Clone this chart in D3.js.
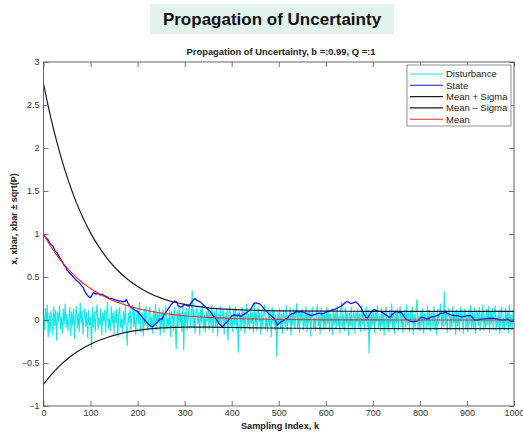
<!DOCTYPE html>
<html>
<head>
<meta charset="utf-8">
<script src="https://cdn.jsdelivr.net/npm/d3@7"></script>
<style>
  body { margin: 0; background: #fff; }
  svg { display: block; font-family: "Liberation Sans", Arial, Helvetica, sans-serif; }
</style>
</head>
<body>
<svg id="chart" width="523" height="433"></svg>
<script>
// ---- data -------------------------------------------------------------
const b = 0.99, Q = 1;
const xTicks = [0, 100, 200, 300, 400, 500, 600, 700, 800, 900, 1000];
const yTicks = [-1, -0.5, 0, 0.5, 1, 1.5, 2, 2.5, 3];

// sample indices for the mean / sigma envelope
const envK = [0, 10, 20, 30, 40, 50, 60, 70, 80, 90, 100, 120, 140, 160, 180, 200, 225, 250, 275, 300, 350, 400, 450, 500, 600, 700, 800, 900, 1000];
const meanV = [1, .904, .818, .740, .669, .605, .547, .495, .448, .405, .366, .299, .245, .200, .164, .134, .104, .081, .063, .049, .030, .018, .011, .007, .002, .001, 0, 0, 0];
const upperV = [2.75, 2.488, 2.251, 2.036, 1.842, 1.667, 1.508, 1.365, 1.236, 1.119, 1.013, .832, .684, .564, .467, .389, .312, .255, .212, .181, .142, .123, .113, .107, .103, .101, .100, .100, .100];
const lowerV = [-.75, -.679, -.615, -.557, -.504, -.457, -.414, -.376, -.341, -.309, -.281, -.233, -.195, -.164, -.139, -.121, -.104, -.092, -.086, -.083, -.083, -.087, -.091, -.094, -.098, -.099, -.100, -.100, -.100];

// state trajectory
const stateK = [0,5,10,15,20,25,29,35,40,43,47,50,55,60,65,70,75,79,84,88,93,96,100,104,107,111,116,120,125,130,135,140,145,150,155,160,165,170,174,176,179,185,190,195,200,206,212,218,223,228,232,237,242,247,252,256,260,265,270,275,279,283,286,291,296,300,305,309,314,318,322,326,330,335,341,346,352,357,362,367,373,377,380,385,391,396,401,406,412,416,419,424,430,435,440,444,447,452,456,459,463,469,474,479,484,490,494,497,501,505,510,514,518,522,527,533,538,543,547,552,557,561,566,570,575,580,586,591,597,604,610,614,618,625,632,637,643,648,653,658,664,668,674,678,681,685,689,692,696,700,703,708,712,717,722,727,731,735,738,742,745,749,754,760,765,770,775,781,788,795,802,806,811,816,822,830,836,840,845,850,855,860,866,872,880,887,894,900,908,912,916,923,930,937,944,951,958,965,972,979,987,994,1000];
const stateV = [1.0,.96,.93,.88,.86,.80,.78,.72,.68,.64,.62,.58,.55,.52,.49,.46,.44,.41,.38,.33,.29,.27,.26,.30,.32,.30,.31,.29,.30,.28,.27,.25,.25,.24,.23,.22,.22,.21,.22,.24,.20,.15,.13,.11,.10,.06,.02,-.02,-.05,-.07,-.08,-.05,-.03,.01,.01,.06,.09,.13,.17,.20,.22,.21,.17,.15,.16,.18,.17,.16,.20,.23,.25,.23,.22,.20,.17,.14,.11,.08,.04,.01,-.04,-.06,-.08,-.05,-.02,.02,.05,.06,.05,.06,.04,.06,.08,.10,.12,.16,.19,.20,.19,.19,.17,.13,.10,.07,.05,.02,-.02,-.06,-.04,-.02,-.01,.01,.02,.05,.07,.08,.10,.09,.10,.09,.08,.07,.06,.05,.06,.07,.08,.07,.08,.10,.11,.12,.12,.14,.16,.18,.21,.21,.19,.20,.21,.19,.15,.11,.07,.03,.02,.05,.09,.11,.12,.11,.10,.10,.08,.06,.05,.03,.04,.07,.08,.10,.09,.09,.05,.01,0,-.02,-.02,-.01,.03,.03,.02,.01,.03,.04,.05,.06,.08,.08,.09,.07,.06,.05,.05,.04,.04,.05,.05,.03,0,0,.01,.01,.02,.02,.02,.01,0,0,.01,-.02,-.01];

// disturbance, every second sample from k = 0 to 1000
const disturbance = [
  .05,-.12,.14,-.03,.18,-.20,.08,-.15,.11,.02,-.18,.16,-.07,.12,-.24,.09,-.02,.17,-.11,.04,-.16,.13,-.05,.19,-.09,
  .07,-.13,.02,.15,-.19,.10,-.06,.13,-.22,.05,.16,-.10,.08,-.14,.20,-.04,.11,-.17,.03,.14,-.08,.09,-.21,.12,-.06,
  .04,-.33,.15,-.09,.10,-.14,.07,.18,-.12,.03,-.07,.14,-.18,.09,-.02,.12,-.15,.06,.21,-.10,.01,-.13,.16,-.05,.08,
  -.16,.11,-.04,.13,-.20,.07,.15,-.09,.02,-.14,.10,-.06,.17,-.11,-.30,.08,-.03,.14,-.12,.05,.18,-.08,.10,-.17,.06,
  .12,-.05,.21,-.14,.03,.09,-.19,.13,-.07,.16,-.02,-.13,.08,.15,-.10,.04,-.16,.11,-.06,.19,-.12,.07,-.03,.14,-.18,
  .09,-.08,.13,-.15,.05,.17,-.11,.02,-.07,.12,-.20,.10,.06,-.13,.15,-.04,-.34,.11,-.09,.16,-.06,.08,-.14,.18,-.35,
  .10,-.07,.14,-.12,.05,.19,-.10,.03,.35,-.08,.12,-.16,.07,.15,-.05,.09,-.18,.13,-.03,.17,-.11,.06,-.14,.10,-.02,
  .15,-.12,.08,-.06,.18,-.15,.04,.11,-.09,.14,-.19,.07,-.03,.16,-.10,.05,.12,-.17,.09,-.05,.13,-.24,.06,.17,-.08,
  .03,-.14,.12,-.06,.16,-.11,.08,-.38,.10,.05,-.13,.15,-.07,.11,-.16,.04,.19,-.09,.07,-.12,.14,-.04,.09,-.15,.21,
  -.06,.10,-.13,.16,-.02,.08,-.17,.12,-.09,.05,.18,-.11,.03,-.14,.13,-.07,.10,-.20,.15,-.04,.11,-.12,.06,-.43,.09,
  -.05,.14,-.10,.07,-.16,.12,.03,-.08,.17,-.13,.06,-.03,.15,-.18,.09,-.06,.13,-.11,.04,.19,-.09,.08,-.15,.11,-.02,
  .13,-.12,.06,-.08,.16,-.14,.10,-.04,.12,-.19,.07,.15,-.10,.03,-.13,.09,.18,-.07,.05,-.16,.14,-.03,.10,-.12,.08,
  -.09,.15,-.05,.11,-.14,.07,.02,-.17,.13,-.06,.09,-.11,.16,-.08,.04,-.15,.12,.21,-.10,.06,-.13,.14,-.04,.10,-.18,
  .08,-.07,.15,-.12,.05,.11,-.16,.09,-.03,.14,-.09,.07,-.14,.17,-.05,.10,-.13,.04,.16,-.08,.12,-.39,.06,-.11,.13,
  -.06,.09,-.15,.12,-.02,.17,-.10,.05,-.13,.14,-.07,.10,-.18,.08,.15,-.11,.03,-.14,.12,-.05,.19,-.09,.07,-.16,.11,
  -.04,.13,-.12,.06,.16,-.08,.10,-.15,.04,.12,-.10,.18,-.06,.09,-.14,.11,-.03,.15,-.17,.07,-.09,.13,.24,-.11,.05,
  -.13,.10,-.06,.14,-.16,.08,.02,-.11,.17,-.07,.12,-.14,.05,.10,-.09,.16,-.12,.04,-.18,.13,-.05,.09,.19,-.10,.07,
  -.08,.33,-.06,.11,-.15,.08,.14,-.12,.05,-.09,.16,-.04,.10,-.17,.12,-.07,.09,-.13,.15,-.02,.11,-.16,.07,.13,-.10,
  .06,-.14,.12,-.05,.17,-.11,.08,-.09,.14,-.16,.04,.11,-.07,.15,-.13,.09,-.03,.18,-.12,.06,-.10,.13,-.06,.16,-.15,
  .10,-.04,.14,-.11,.07,.17,-.13,.05,-.08,.12,-.16,.09,.15,-.10,.03,-.12,.14,-.06,.10,-.15,.18,-.09,.06,-.11,.12,
  -.03
];

const seriesNames = ["Disturbance", "State", "Mean + Sigma", "Mean \u2013 Sigma", "Mean"];
const seriesColors = ["#19e6e6", "#1414f0", "#1a1a2e", "#1a1a1a", "#f02a2a"];

// ---- layout -----------------------------------------------------------
const svg = d3.select("#chart");
const plotL = 43.5, plotR = 514, plotT = 62, plotB = 406;
const x = d3.scaleLinear().domain([0, 1000]).range([plotL, plotR]);
const y = d3.scaleLinear().domain([-1, 3]).range([plotB, plotT]);
const fmtY = v => (v < 0 ? "\u2212" : "") + Math.abs(v);

// banner heading
svg.append("rect").attr("x", 150).attr("y", 4).attr("width", 244).attr("height", 30)
  .attr("fill", "#e1f3ec");
svg.append("text").attr("x", 272).attr("y", 24.5).attr("text-anchor", "middle")
  .attr("font-size", 17).attr("font-weight", "bold").attr("fill", "#111")
  .text("Propagation of Uncertainty");

// plot title
svg.append("text").attr("x", 281).attr("y", 54.5).attr("text-anchor", "middle")
  .attr("font-size", 9.4).attr("font-weight", "bold").attr("fill", "#222")
  .text(`Propagation of Uncertainty, b =:${b}, Q =:${Q}`);

// clipped data layer
svg.append("clipPath").attr("id", "plotclip").append("rect")
  .attr("x", plotL).attr("y", plotT).attr("width", plotR - plotL).attr("height", plotB - plotT);
const g = svg.append("g").attr("clip-path", "url(#plotclip)");

const stepK = 1000 / (disturbance.length - 1);
const line = d3.line().x(d => x(d[0])).y(d => y(d[1]));
const smooth = d3.line().x(d => x(d[0])).y(d => y(d[1])).curve(d3.curveMonotoneX);

g.append("path").datum(disturbance.map((v, i) => [i * stepK, v]))
  .attr("d", line).attr("fill", "none").attr("stroke", seriesColors[0]).attr("stroke-width", 1.1);
g.append("path").datum(stateK.map((k, i) => [k, stateV[i]]))
  .attr("d", line).attr("fill", "none").attr("stroke", seriesColors[1]).attr("stroke-width", 1.3)
  .attr("stroke-linejoin", "round");
g.append("path").datum(envK.map((k, i) => [k, upperV[i]]))
  .attr("d", smooth).attr("fill", "none").attr("stroke", seriesColors[2]).attr("stroke-width", 1.2);
g.append("path").datum(envK.map((k, i) => [k, lowerV[i]]))
  .attr("d", smooth).attr("fill", "none").attr("stroke", seriesColors[3]).attr("stroke-width", 1.2);
g.append("path").datum(envK.map((k, i) => [k, meanV[i]]))
  .attr("d", smooth).attr("fill", "none").attr("stroke", seriesColors[4]).attr("stroke-width", 1.1);

// axes with inward ticks on all four sides
const axisColor = "#555";
function styleAxis(sel) {
  sel.select(".domain").remove();
  sel.selectAll(".tick line").attr("stroke", axisColor).attr("stroke-width", 0.8);
  sel.selectAll(".tick text").attr("fill", "#333").attr("font-size", 9)
    .attr("font-family", "\"Liberation Sans\", Arial, sans-serif");
}
svg.append("g").attr("transform", `translate(0,${plotB})`)
  .call(d3.axisBottom(x).tickValues(xTicks).tickSizeInner(-5).tickSizeOuter(0).tickPadding(4).tickFormat(d3.format("d")))
  .call(styleAxis);
svg.append("g").attr("transform", `translate(0,${plotT})`)
  .call(d3.axisTop(x).tickValues(xTicks).tickSizeInner(-5).tickSizeOuter(0).tickFormat(""))
  .call(styleAxis);
svg.append("g").attr("transform", `translate(${plotL},0)`)
  .call(d3.axisLeft(y).tickValues(yTicks).tickSizeInner(-5).tickSizeOuter(0).tickPadding(4).tickFormat(fmtY))
  .call(styleAxis);
svg.append("g").attr("transform", `translate(${plotR},0)`)
  .call(d3.axisRight(y).tickValues(yTicks).tickSizeInner(-5).tickSizeOuter(0).tickFormat(""))
  .call(styleAxis);
svg.append("rect").attr("x", plotL).attr("y", plotT).attr("width", plotR - plotL).attr("height", plotB - plotT)
  .attr("fill", "none").attr("stroke", axisColor).attr("stroke-width", 0.9);

// axis titles
svg.append("text").attr("x", 280).attr("y", 429).attr("text-anchor", "middle")
  .attr("font-size", 9.2).attr("font-weight", "bold").attr("fill", "#222")
  .text("Sampling Index, k");
svg.append("text").attr("transform", "translate(17,219) rotate(-90)").attr("text-anchor", "middle")
  .attr("font-size", 9).attr("font-weight", "bold").attr("fill", "#222")
  .text("x, xbar, xbar \u00b1 sqrt(P)");

// legend
const lg = svg.append("g");
lg.append("rect").attr("x", 407).attr("y", 65).attr("width", 104).attr("height", 61)
  .attr("fill", "#fff").attr("stroke", "#777").attr("stroke-width", 0.8);
seriesNames.forEach((name, i) => {
  const yy = 74 + i * 11.3;
  lg.append("line").attr("x1", 410).attr("x2", 443).attr("y1", yy).attr("y2", yy)
    .attr("stroke", seriesColors[i]).attr("stroke-width", 1.1);
  lg.append("text").attr("x", 446).attr("y", yy + 3.3).attr("font-size", 9.5).attr("fill", "#222").text(name);
});
</script>
</body>
</html>
